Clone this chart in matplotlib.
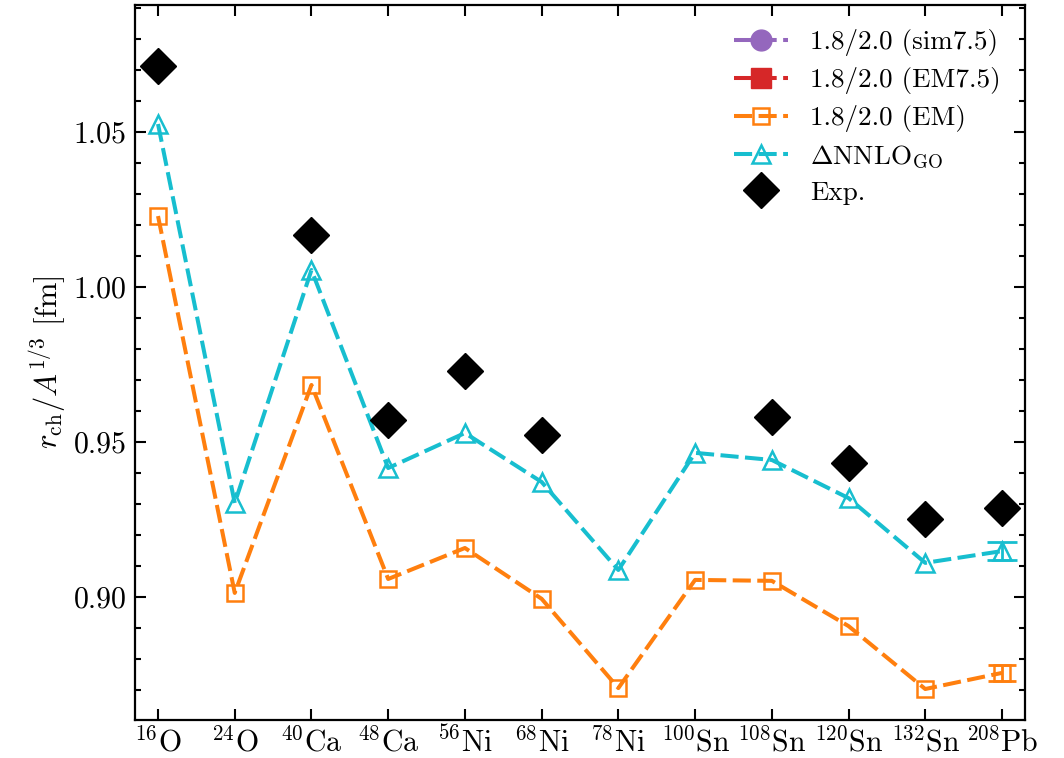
import numpy as np
import matplotlib
matplotlib.use("Agg")
import matplotlib.pyplot as plt
from matplotlib.ticker import MultipleLocator, FormatStrFormatter

plt.rcParams.update({
    "font.family": "serif",
    "font.serif": ["cmr10"],
    "mathtext.fontset": "cm",
    "axes.formatter.use_mathtext": True,
    "font.size": 20,
})

nuclei = [r"$^{16}\mathrm{O}$", r"$^{24}\mathrm{O}$", r"$^{40}\mathrm{Ca}$", r"$^{48}\mathrm{Ca}$",
          r"$^{56}\mathrm{Ni}$", r"$^{68}\mathrm{Ni}$", r"$^{78}\mathrm{Ni}$", r"$^{100}\mathrm{Sn}$",
          r"$^{108}\mathrm{Sn}$", r"$^{120}\mathrm{Sn}$", r"$^{132}\mathrm{Sn}$", r"$^{208}\mathrm{Pb}$"]

sim75 = []
em75 = []
em = [1.0229, 0.9013, 0.9684, 0.9058, 0.9158, 0.8994, 0.8706, 0.9055, 0.9052, 0.8906, 0.8703, 0.8755]
em_err = [0, 0, 0, 0, 0, 0, 0, 0, 0, 0, 0, 0.0027]
go = [1.0526, 0.9303, 1.0055, 0.9416, 0.9529, 0.9371, 0.9087, 0.9465, 0.9442, 0.9319, 0.9110, 0.9148]
go_err = [0, 0, 0, 0, 0, 0, 0, 0, 0, 0, 0, 0.0030]
exp = [1.0713, np.nan, 1.0168, 0.9571, 0.9729, 0.9523, np.nan, np.nan, 0.9581, 0.9432, 0.9252, 0.9287]

c_sim, c_em75, c_em, c_go = "#9467bd", "#d62728", "#ff7f0e", "#17becf"

fig = plt.figure(figsize=(10.64, 7.58), dpi=100)
ax = fig.add_axes([135/1064, 38/758, 890/1064, 715/758])

x = np.arange(len(nuclei))
lw = 2.9
dash = (0, (4.5, 1.6))

ax.plot(sim75, sim75, color=c_sim, ls=dash, lw=lw, marker="o", ms=15, label="1.8/2.0 (sim7.5)")
ax.plot(em75, em75, color=c_em75, ls=dash, lw=lw, marker="s", ms=14, label="1.8/2.0 (EM7.5)")
ax.plot(x, em, color=c_em, ls=dash, lw=lw, marker="s", ms=12, mfc="none", mew=1.8,
        label="1.8/2.0 (EM)")
ax.plot(x, go, color=c_go, ls=dash, lw=lw, marker="^", ms=13, mfc="none", mew=1.8,
        label=r"$\Delta\mathrm{NNLO}_{\mathrm{GO}}$")

em_a, go_a = np.array(em), np.array(go)
em_e, go_e = np.array(em_err), np.array(go_err)
m = em_e > 0
ax.errorbar(x[m], em_a[m], yerr=em_e[m], fmt="none", ecolor=c_em, elinewidth=2, capsize=10, capthick=2)
m = go_e > 0
ax.errorbar(x[m], go_a[m], yerr=go_e[m], fmt="none", ecolor=c_go, elinewidth=2, capsize=11, capthick=2)

ax.plot(x, exp, ls="none", marker="D", ms=18, color="black", label="Exp.")

ax.set_xlim(-0.3, 11.3)
ax.set_ylim(0.8603, 1.091)
ax.set_xticks(x)
ax.set_xticklabels(nuclei)
ax.yaxis.set_major_locator(MultipleLocator(0.05))
ax.yaxis.set_minor_locator(MultipleLocator(0.01))
ax.yaxis.set_major_formatter(FormatStrFormatter("%.2f"))
ax.tick_params(axis="both", which="both", direction="in", top=True, right=True, width=1.5)
ax.tick_params(axis="both", which="major", length=8, labelsize=21.5)
ax.tick_params(axis="both", which="minor", length=4)
ax.tick_params(axis="x", which="minor", bottom=False, top=False)
ax.tick_params(axis="y", which="major", pad=6)
ax.tick_params(axis="x", which="major", pad=5)
for s in ax.spines.values():
    s.set_linewidth(1.6)

ax.set_ylabel(r"$r_{\rm ch}/A^{1/3}$ [fm]", fontsize=22)

ax.legend(loc="upper right", frameon=False, fontsize=19.5, handlelength=2.0, labelspacing=0.4)

fig.savefig("out.png", dpi=100)
